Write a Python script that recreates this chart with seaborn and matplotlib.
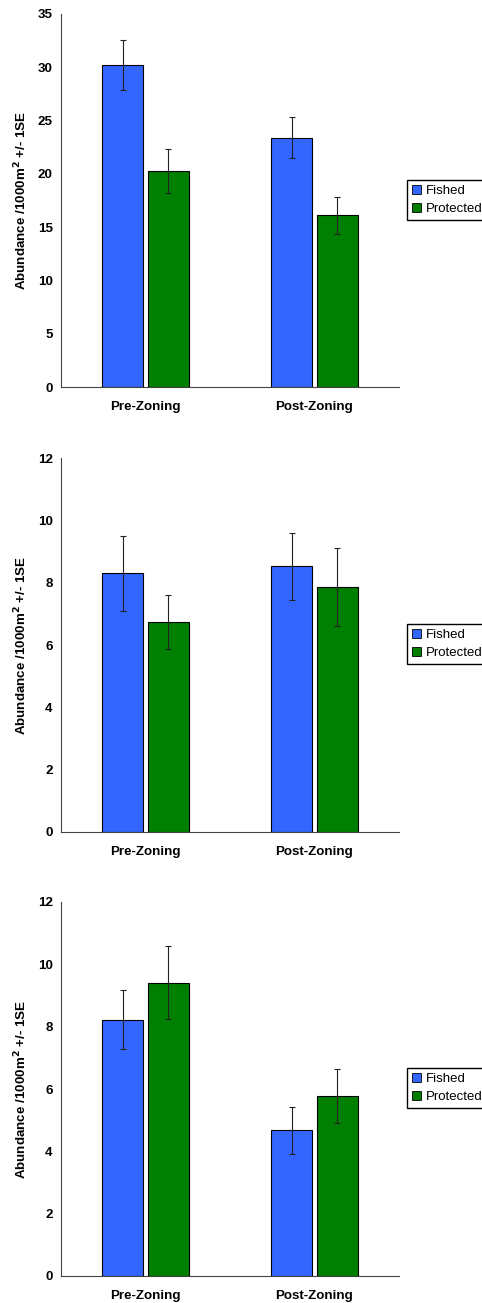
import seaborn as sns
import matplotlib.pyplot as plt
import pandas as pd
from matplotlib.patches import Patch


periodos = ["Pre-Zoning", "Post-Zoning"]
grupos = ["Fished", "Protected"]

# valores por panel: [Pre, Post]
panel1_fished = [30.2, 23.4]
panel1_protected = [20.3, 16.1]
panel1_se_fished = [2.35, 1.9]
panel1_se_protected = [2.05, 1.7]

panel2_fished = [8.3, 8.52]
panel2_protected = [6.75, 7.86]
panel2_se_fished = [1.2, 1.08]
panel2_se_protected = [0.87, 1.26]

panel3_fished = [8.22, 4.67]
panel3_protected = [9.41, 5.77]
panel3_se_fished = [0.95, 0.76]
panel3_se_protected = [1.17, 0.86]

ylims = [35, 12, 12]
yticks_paso = [5, 2, 2]

colores = {"Fished": "#3366FF", "Protected": "#008000"}


def crear_df(fished, protected):
    dicc = {
        "Periodo": periodos + periodos,
        "Grupo": ["Fished"] * 2 + ["Protected"] * 2,
        "Valor": list(fished) + list(protected),
    }
    return pd.DataFrame(dicc)


def dibujar_panel(ax, fished, protected, se_f, se_p, ymax, paso):
    df = crear_df(fished, protected)

    sns.barplot(x="Periodo", y="Valor", hue="Grupo", data=df, order=periodos,
                hue_order=grupos, palette=colores, width=0.544, gap=0.088,
                edgecolor="black", linewidth=0.8, saturation=1, ax=ax,
                legend=False)

    errores = [se_f, se_p]
    for cont, err in zip(ax.containers, errores):
        xs = [b.get_x() + b.get_width() / 2 for b in cont]
        ys = [b.get_height() for b in cont]
        ax.errorbar(xs, ys, yerr=err, fmt="none", ecolor="#222222",
                    elinewidth=0.8, capsize=2, capthick=0.8, zorder=5)

    ax.set_xlim(-0.5, 1.5)
    ax.set_ylim(0, ymax)
    ax.set_yticks(range(0, ymax + 1, paso))
    ax.set_xlabel("")
    ax.set_ylabel("Abundance /1000m$^\\mathbf{2}$ +/- 1SE", fontsize=9.6,
                  fontweight="bold", color="black")
    ax.yaxis.set_label_coords(-0.095, 0.5)

    for lab in ax.get_yticklabels() + ax.get_xticklabels():
        lab.set_fontweight("bold")
        lab.set_fontsize(9.6)
        lab.set_color("black")

    ax.tick_params(axis="y", length=3, width=0.8, pad=3, color="#444444")
    ax.tick_params(axis="x", which="major", length=0, pad=10)
    ax.set_xticks([-0.5, 0.5, 1.5], minor=True)
    ax.tick_params(axis="x", which="minor", length=4, width=0.8,
                   color="#444444")

    for lado in ["top", "right"]:
        ax.spines[lado].set_visible(False)
    for lado in ["left", "bottom"]:
        ax.spines[lado].set_color("#444444")
        ax.spines[lado].set_linewidth(0.8)


def poner_leyenda(fig, y_centro):
    handles = [Patch(facecolor=colores[g], edgecolor="black", linewidth=0.6,
                     label=g) for g in grupos]
    fig.legend(handles=handles, loc="center left",
               bbox_to_anchor=(407 / 482, y_centro), fontsize=9.5,
               frameon=True, fancybox=False, edgecolor="black",
               framealpha=1, handlelength=0.65, handleheight=0.65,
               handletextpad=0.35, borderpad=0.4, labelspacing=0.45,
               borderaxespad=0, labelcolor="black")


def main():
    sns.set_style("white")
    plt.rcParams["font.family"] = ["Liberation Sans", "DejaVu Sans"]

    fig = plt.figure(figsize=(4.82, 13.03), dpi=100)

    posiciones = [(14, 387), (458, 832), (902, 1276)]
    datos = [
        (panel1_fished, panel1_protected, panel1_se_fished, panel1_se_protected),
        (panel2_fished, panel2_protected, panel2_se_fished, panel2_se_protected),
        (panel3_fished, panel3_protected, panel3_se_fished, panel3_se_protected),
    ]
    leyendas_y = [200, 644, 1088]

    for (top, bot), d, ymax, paso, ly in zip(posiciones, datos, ylims,
                                             yticks_paso, leyendas_y):
        ax = fig.add_axes([61 / 482, 1 - bot / 1303, 338 / 482,
                           (bot - top) / 1303])
        dibujar_panel(ax, d[0], d[1], d[2], d[3], ymax, paso)
        poner_leyenda(fig, 1 - ly / 1303)

    fig.savefig("out.png", dpi=100)


if __name__ == "__main__":
    main()
